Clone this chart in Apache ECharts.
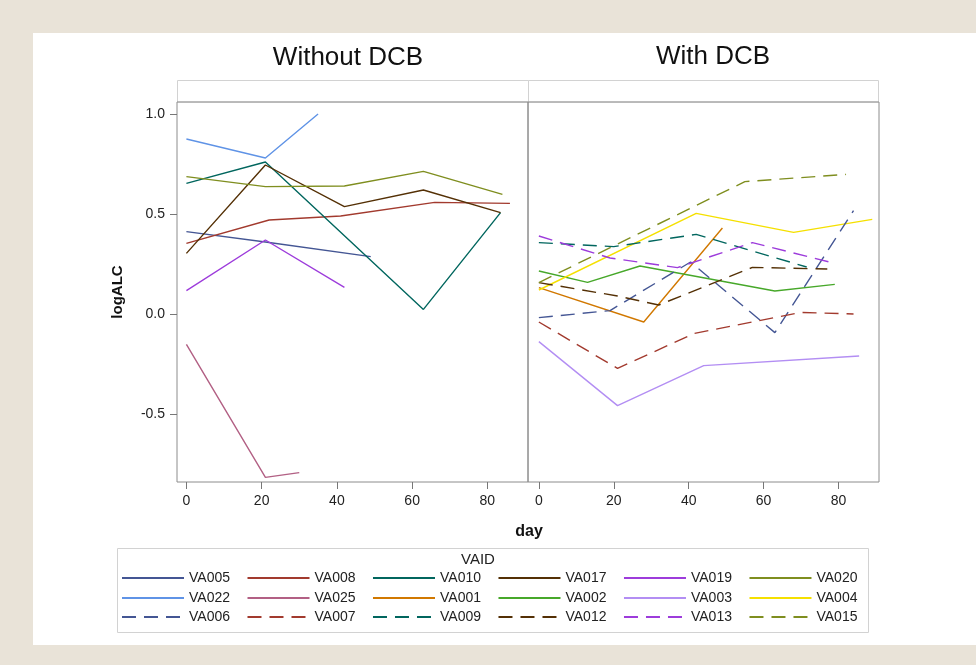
<!DOCTYPE html>
<html>
<head>
<meta charset="utf-8">
<script src="https://cdn.jsdelivr.net/npm/echarts@6/dist/echarts.min.js"></script>
<style>
html,body{margin:0;padding:0;background:#e9e3d8;}
#frame{position:absolute;left:33px;top:33px;width:943px;height:612px;background:#fff;}
#chart{position:absolute;left:0;top:0;width:976px;height:665px;}
</style>
</head>
<body>
<div id="frame"></div>
<div id="chart"></div>
<script>
// ---- data: [day, logALC] ----
// Without DCB
const VA005 = [[0,0.412],[21,0.36],[49,0.287]];
const VA008 = [[0,0.353],[22,0.47],[41,0.49],[66,0.558],[86,0.553]];
const VA010 = [[0,0.653],[21,0.76],[63,0.023],[83.5,0.507]];
const VA017 = [[0,0.303],[21,0.745],[42,0.537],[63,0.62],[83.5,0.507]];
const VA019 = [[0,0.117],[21,0.37],[42,0.133]];
const VA020 = [[0,0.687],[21,0.637],[42,0.64],[63,0.713],[84,0.598]];
const VA022 = [[0,0.875],[21,0.78],[35,1.0]];
const VA025 = [[0,-0.152],[21,-0.817],[30,-0.793]];
// With DCB
const VA001 = [[0,0.132],[28,-0.04],[49,0.43]];
const VA002 = [[0,0.215],[13,0.158],[27,0.24],[63,0.115],[79,0.148]];
const VA003 = [[0,-0.138],[21,-0.458],[44,-0.258],[85.5,-0.21]];
const VA004 = [[0,0.12],[42,0.503],[68,0.408],[89,0.473]];
const VA006 = [[0,-0.018],[19,0.017],[40.5,0.26],[63,-0.093],[84,0.517]];
const VA007 = [[0,-0.04],[21,-0.272],[41.5,-0.097],[70,0.008],[84,0.0]];
const VA009 = [[0,0.357],[20,0.337],[42,0.398],[71.5,0.235]];
const VA012 = [[0,0.157],[21,0.09],[32,0.045],[57,0.233],[77,0.225]];
const VA013 = [[0,0.39],[19,0.28],[37,0.232],[57,0.357],[79,0.253]];
const VA015 = [[0,0.157],[55,0.662],[82,0.698]];

const panelTitles = ['Without DCB', 'With DCB'];
const xTicks = [0, 20, 40, 60, 80];
const yTicks = [-0.5, 0.0, 0.5, 1.0];
const legendRow1 = ['VA005','VA008','VA010','VA017','VA019','VA020'];
const legendRow2 = ['VA022','VA025','VA001','VA002','VA003','VA004'];
const legendRow3 = ['VA006','VA007','VA009','VA012','VA013','VA015'];

// ---- styling ----
const colorOf = {
  VA005:'#445694', VA006:'#445694',
  VA008:'#A23A2E', VA007:'#A23A2E',
  VA010:'#01665E', VA009:'#01665E',
  VA017:'#543005', VA012:'#543005',
  VA019:'#9D3CDB', VA013:'#9D3CDB',
  VA020:'#7F8E1F', VA015:'#7F8E1F',
  VA022:'#5F93E6', VA025:'#B26084', VA001:'#D17800',
  VA002:'#47A82A', VA003:'#B38EF3', VA004:'#F5E000'
};
const dashed = new Set(legendRow3);
const FONT = 'Liberation Sans, Arial, sans-serif';

const leftSet = {VA005,VA008,VA010,VA017,VA019,VA020,VA022,VA025};
const rightSet = {VA001,VA002,VA003,VA004,VA006,VA007,VA009,VA012,VA013,VA015};

function mk(name, data, idx){
  return {
    name, type:'line', data, xAxisIndex:idx, yAxisIndex:idx,
    symbol:'none', silent:true, z:3,
    lineStyle:{color:colorOf[name], width:1.4, type: dashed.has(name) ? [14,8] : 'solid'},
    itemStyle:{color:colorOf[name]}
  };
}
const series = [];
Object.keys(leftSet).forEach(k=>series.push(mk(k,leftSet[k],0)));
Object.keys(rightSet).forEach(k=>series.push(mk(k,rightSet[k],1)));

const gridTop = 102, gridH = 380, gridW = 351;
const grids = [
  {left:177, top:gridTop, width:gridW, height:gridH, show:true, borderColor:'#8c8c8c', borderWidth:1, backgroundColor:'transparent'},
  {left:528, top:gridTop, width:gridW, height:gridH, show:true, borderColor:'#8c8c8c', borderWidth:1, backgroundColor:'transparent'}
];
function xAx(idx, min){
  return {
    type:'value', gridIndex:idx, min:min, max:90.8, position:'bottom',
    splitLine:{show:false}, axisLine:{show:false, onZero:false},
    axisTick:{show:true, length:7, inside:false, customValues:xTicks, lineStyle:{color:'#777'}},
    axisLabel:{show:true, customValues:xTicks, color:'#222', fontSize:14, fontFamily:FONT, margin:12}
  };
}
function yAx(idx){
  return {
    type:'value', gridIndex:idx, min:-0.84, max:1.06, position:'left',
    splitLine:{show:false}, axisLine:{show:false, onZero:false},
    name: idx===0 ? 'logALC' : '', nameLocation:'middle', nameGap:52,
    nameTextStyle:{fontWeight:'bold', fontSize:15, fontFamily:FONT, color:'#111'},
    axisTick:{show: idx===0, length:7, inside:false, customValues:yTicks, lineStyle:{color:'#777'}},
    axisLabel:{show: idx===0, customValues:yTicks, color:'#222', fontSize:14, fontFamily:FONT, margin:12,
      formatter:v=>v.toFixed(1)}
  };
}
function legendRow(names, top){
  return {
    data:names, left:121, top:top, orient:'horizontal',
    itemWidth:62, itemHeight:14, itemGap:16.5, selectedMode:false,
    itemStyle:{color:'rgba(0,0,0,0)', borderColor:'rgba(0,0,0,0)', borderWidth:0, opacity:0},
    lineStyle:{opacity:1},
    textStyle:{fontSize:14, fontFamily:FONT, color:'#222'},
    padding:0
  };
}

const chart = echarts.init(document.getElementById('chart'), null, {renderer:'canvas'});
chart.setOption({
  backgroundColor:'transparent',
  animation:false,
  grid:grids,
  xAxis:[xAx(0,-2.5), xAx(1,-2.9)],
  yAxis:[yAx(0), yAx(1)],
  legend:[legendRow(legendRow1,571), legendRow(legendRow2,591), legendRow(legendRow3,610)],
  graphic:[
    {type:'rect', shape:{x:177.5,y:80.5,width:351,height:21.5}, style:{fill:'#fff', stroke:'#d2d2d2', lineWidth:1}, z:-1},
    {type:'rect', shape:{x:528.5,y:80.5,width:350,height:21.5}, style:{fill:'#fff', stroke:'#d2d2d2', lineWidth:1}, z:-1},
    {type:'rect', shape:{x:117.5,y:548.5,width:751,height:84}, style:{fill:'transparent', stroke:'#d2d2d2', lineWidth:1}, z:-1},
    {type:'text', x:348, y:58, style:{text:panelTitles[0], textAlign:'center', align:'center', textVerticalAlign:'middle', verticalAlign:'middle', font:'26px '+FONT, fill:'#111'}},
    {type:'text', x:713, y:57, style:{text:panelTitles[1], textAlign:'center', align:'center', textVerticalAlign:'middle', verticalAlign:'middle', font:'26px '+FONT, fill:'#111'}},
    {type:'text', x:529, y:532, style:{text:'day', textAlign:'center', align:'center', textVerticalAlign:'middle', verticalAlign:'middle', font:'bold 16px '+FONT, fill:'#111'}},
    {type:'text', x:478, y:560, style:{text:'VAID', textAlign:'center', align:'center', textVerticalAlign:'middle', verticalAlign:'middle', font:'15px '+FONT, fill:'#222'}}
  ],
  series:series
});
</script>
</body>
</html>
